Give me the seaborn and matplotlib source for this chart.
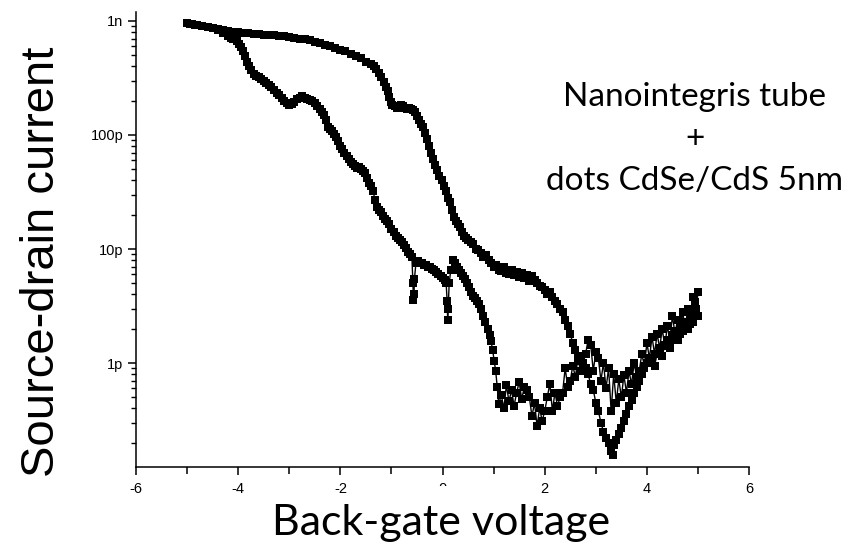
import numpy as np
import pandas as pd
import matplotlib
matplotlib.use('Agg')
import matplotlib.pyplot as plt
import matplotlib.ticker as mticker
import matplotlib.transforms as mtransforms
from matplotlib.patches import Rectangle
import seaborn as sns

# forward sweep (-5 V -> +5 V), current in pA
fwd_v = [-5.00, -4.95, -4.90, -4.85, -4.80, -4.70, -4.60, -4.50, -4.40, -4.30,
         -4.20, -4.10, -4.00, -3.90, -3.80, -3.70, -3.60, -3.50, -3.40, -3.30,
         -3.20, -3.10, -3.00, -2.90, -2.80, -2.70, -2.60, -2.50, -2.40, -2.30,
         -2.20, -2.10, -2.00, -1.90, -1.80, -1.70, -1.60, -1.50, -1.40, -1.35,
         -1.30, -1.25, -1.20, -1.15, -1.10, -1.07, -1.04, -1.01, -0.98, -0.94,
         -0.90, -0.86, -0.82, -0.78, -0.74, -0.70, -0.66, -0.62, -0.58, -0.54,
         -0.50, -0.46, -0.42, -0.38, -0.34, -0.30, -0.26, -0.22, -0.18, -0.14,
         -0.10, -0.06, -0.02, 0.02, 0.06, 0.10, 0.14, 0.18, 0.22, 0.26,
         0.30, 0.34, 0.38, 0.42, 0.46, 0.50, 0.55, 0.60, 0.65, 0.70,
         0.75, 0.80, 0.85, 0.90, 0.95, 1.00, 1.05, 1.10, 1.15, 1.20,
         1.25, 1.30, 1.35, 1.40, 1.45, 1.50, 1.55, 1.60, 1.65, 1.70,
         1.75, 1.80, 1.85, 1.90, 1.95, 2.00, 2.05, 2.10, 2.15, 2.20,
         2.25, 2.30, 2.35, 2.40, 2.45, 2.50, 2.55, 2.60, 2.65, 2.70,
         2.75, 2.80, 2.85, 2.90, 2.95, 3.00, 3.05, 3.10, 3.15, 3.20,
         3.25, 3.30, 3.33, 3.36, 3.40, 3.45, 3.50, 3.55, 3.60, 3.65,
         3.70, 3.75, 3.80, 3.85, 3.90, 3.95, 4.00, 4.05, 4.10, 4.15,
         4.20, 4.25, 4.30, 4.35, 4.40, 4.45, 4.50, 4.55, 4.60, 4.65,
         4.70, 4.75, 4.80, 4.85, 4.90, 4.95, 5.00]
fwd_i = [960, 950, 935, 930, 915, 900, 880, 870, 850, 830,
         820, 800, 795, 790, 780, 770, 765, 760, 755, 750,
         740, 735, 720, 710, 700, 690, 675, 660, 640, 620,
         600, 580, 560, 540, 510, 490, 470, 440, 420, 405,
         380, 350, 320, 290, 265, 245, 215, 195, 185, 178,
         172, 176, 182, 180, 172, 170, 174, 168, 165, 158,
         148, 135, 125, 117, 105, 92, 80, 70, 62, 55,
         49, 44, 40, 36, 32, 28, 26, 22, 19, 17.5,
         16.5, 15.5, 14, 13, 12.5, 12, 11.5, 11, 10, 9.8,
         9.2, 8.5, 8.8, 8.0, 7.6, 7.0, 7.3, 6.6, 6.4, 6.9,
         6.2, 6.0, 6.5, 5.9, 6.3, 5.7, 6.1, 5.6, 5.9, 5.2,
         5.8, 5.4, 5.0, 4.7, 4.6, 4.4, 4.0, 4.2, 3.8, 3.5,
         3.3, 3.0, 2.8, 2.4, 2.1, 1.8, 1.5, 1.3, 1.15, 1.05,
         0.95, 0.90, 0.80, 0.65, 0.58, 0.45, 0.38, 0.30, 0.25, 0.22,
         0.20, 0.17, 0.155, 0.19, 0.21, 0.24, 0.27, 0.31, 0.36, 0.42,
         0.47, 0.55, 0.62, 0.70, 0.80, 0.90, 1.00, 1.05, 1.10, 0.95,
         1.20, 1.30, 1.15, 1.45, 1.60, 1.35, 1.75, 1.90, 1.60, 2.10,
         1.90, 2.30, 2.00, 2.60, 2.30, 3.40, 2.60]

# backward sweep (+5 V -> -5 V), current in pA
bwd_v = [5.00, 4.97, 4.95, 4.90, 4.85, 4.80, 4.75, 4.70, 4.65, 4.60,
         4.55, 4.50, 4.45, 4.40, 4.35, 4.30, 4.25, 4.20, 4.15, 4.10,
         4.05, 4.00, 3.95, 3.90, 3.85, 3.80, 3.75, 3.70, 3.65, 3.60,
         3.55, 3.50, 3.45, 3.40, 3.35, 3.30, 3.25, 3.20, 3.15, 3.10,
         3.05, 3.00, 2.95, 2.90, 2.85, 2.80, 2.75, 2.70, 2.65, 2.60,
         2.55, 2.50, 2.45, 2.40, 2.35, 2.30, 2.25, 2.20, 2.15, 2.10,
         2.05, 2.00, 1.95, 1.90, 1.85, 1.80, 1.75, 1.70, 1.65, 1.60,
         1.55, 1.50, 1.45, 1.40, 1.35, 1.30, 1.25, 1.20, 1.15, 1.10,
         1.07, 1.04, 1.01, 0.98, 0.95, 0.92, 0.88, 0.84, 0.80, 0.76,
         0.72, 0.68, 0.64, 0.60, 0.56, 0.52, 0.48, 0.44, 0.40, 0.36,
         0.32, 0.28, 0.24, 0.20, 0.16, 0.13, 0.11, 0.10, 0.09, 0.07,
         0.04, 0.00, -0.04, -0.08, -0.12, -0.16, -0.20, -0.24, -0.28, -0.32,
         -0.36, -0.40, -0.44, -0.48, -0.52, -0.55, -0.56, -0.57, -0.58, -0.60,
         -0.64, -0.68, -0.72, -0.76, -0.80, -0.84, -0.88, -0.92, -0.96, -1.00,
         -1.04, -1.08, -1.12, -1.16, -1.20, -1.24, -1.28, -1.32, -1.36, -1.40,
         -1.44, -1.48, -1.52, -1.56, -1.60, -1.64, -1.68, -1.72, -1.76, -1.80,
         -1.84, -1.88, -1.92, -1.96, -2.00, -2.04, -2.08, -2.12, -2.16, -2.20,
         -2.24, -2.28, -2.32, -2.36, -2.40, -2.45, -2.50, -2.55, -2.60, -2.65,
         -2.70, -2.75, -2.80, -2.85, -2.90, -2.95, -3.00, -3.05, -3.10, -3.15,
         -3.20, -3.25, -3.30, -3.35, -3.40, -3.45, -3.50, -3.55, -3.60, -3.65,
         -3.70, -3.75, -3.78, -3.82, -3.86, -3.90, -3.94, -3.98, -4.02, -4.06,
         -4.10, -4.15, -4.20, -4.30, -4.40, -4.50, -4.60, -4.70, -4.80, -4.90,
         -5.00]
bwd_i = [4.2, 3.0, 2.6, 3.8, 2.2, 3.0, 2.0, 2.8, 1.8, 2.4,
         1.8, 2.6, 1.6, 2.1, 1.4, 2.0, 1.35, 1.8, 1.2, 1.7,
         1.1, 1.5, 0.95, 1.2, 0.85, 0.75, 1.0, 0.65, 0.85, 0.55,
         0.78, 0.50, 0.72, 0.45, 0.80, 0.38, 0.90, 0.60, 1.00, 0.70,
         1.10, 1.25, 0.85, 1.45, 1.60, 1.20, 1.00, 0.85, 1.10, 0.75,
         0.95, 0.70, 0.62, 0.90, 0.55, 0.50, 0.42, 0.55, 0.38, 0.66,
         0.50, 0.38, 0.31, 0.40, 0.28, 0.45, 0.34, 0.50, 0.58, 0.62,
         0.48, 0.68, 0.55, 0.42, 0.58, 0.46, 0.64, 0.40, 0.52, 0.44,
         0.62, 0.85, 1.05, 1.3, 1.55, 1.75, 2.0, 2.3, 2.6, 3.0,
         3.3, 3.5, 3.7, 3.9, 4.2, 4.6, 5.0, 5.5, 5.8, 6.2,
         6.6, 7.0, 7.5, 8.0, 6.5, 5.0, 3.0, 2.4, 3.5, 5.0,
         5.4, 5.6, 5.8, 6.0, 6.3, 6.5, 6.7, 6.9, 7.0, 7.2,
         7.3, 7.5, 7.6, 7.8, 7.6, 5.5, 4.0, 3.6, 5.0, 8.5,
         9.0, 9.5, 10.2, 10.8, 11.5, 12.0, 12.5, 13.0, 14.0, 15.0,
         16.5, 17.5, 18.5, 19.5, 21, 22, 23.5, 27, 32, 36,
         38, 42, 46, 48, 50, 52, 51, 53, 56, 58,
         62, 66, 70, 75, 80, 88, 96, 103, 108, 112,
         118, 135, 150, 160, 170, 180, 190, 198, 203, 208,
         213, 218, 212, 205, 195, 188, 182, 190, 200, 210,
         222, 235, 250, 262, 275, 285, 300, 310, 320, 330,
         345, 370, 400, 440, 490, 540, 590, 630, 665, 690,
         700, 715, 735, 790, 830, 860, 880, 900, 920, 940,
         960]

fwd = pd.DataFrame({'v': fwd_v, 'i': np.array(fwd_i) * 1e-12})
bwd = pd.DataFrame({'v': bwd_v, 'i': np.array(bwd_i) * 1e-12})

sns.set_style('ticks')
plt.rcParams['font.family'] = ['Liberation Sans', 'DejaVu Sans']
for key in ('text.color', 'axes.labelcolor', 'xtick.color', 'ytick.color',
            'axes.edgecolor'):
    plt.rcParams[key] = 'black'

fig = plt.figure(figsize=(8.61, 5.43), dpi=100)
ax = fig.add_axes([0.158, 0.140, 0.712, 0.838])

for d in (fwd, bwd):
    sns.lineplot(data=d, x='v', y='i', sort=False, estimator=None, ax=ax,
                 color='black', linewidth=1.0, marker='s', markersize=6,
                 markeredgewidth=0, markerfacecolor='black')

ax.set_yscale('log')
ax.set_xlim(-6, 6)
ax.set_ylim(1.225e-13, 1.2e-9)
ax.xaxis.set_major_locator(mticker.MultipleLocator(2))
ax.xaxis.set_minor_locator(mticker.MultipleLocator(1))
ax.xaxis.set_major_formatter(mticker.FuncFormatter(lambda v, p: '%d' % v))
ax.yaxis.set_major_locator(mticker.LogLocator(base=10))
ax.yaxis.set_minor_locator(mticker.LogLocator(base=10, subs=np.arange(2, 10)))
ylabels = {-9: '1n', -10: '100p', -11: '10p', -12: '1p'}
ax.yaxis.set_major_formatter(mticker.FuncFormatter(
    lambda v, p: ylabels.get(int(round(np.log10(v))), '')))
ax.yaxis.set_minor_formatter(mticker.NullFormatter())

sns.despine(ax=ax)
for s in ('left', 'bottom'):
    ax.spines[s].set_linewidth(1.1)
ax.tick_params(axis='both', which='major', length=6, width=1.1,
               labelsize=10.5, direction='out', color='black')
ax.tick_params(axis='x', which='major', pad=5)
ax.tick_params(axis='y', which='major', pad=3)
ax.tick_params(axis='x', which='minor', length=5, width=1.1, direction='out')
ax.tick_params(axis='y', which='minor', length=3.5, width=1.0, direction='out')

ax.set_ylabel('Source-drain current', fontsize=34, family=['Liberation Sans'])
ax.yaxis.set_label_coords(-0.153, 0.45)
ax.yaxis.label.set_va('center')

ax.set_xlabel('Back-gate voltage', fontsize=31, family=['Lato', 'DejaVu Sans'])
ax.xaxis.set_label_coords(0.4976, -0.150)
ax.xaxis.label.set_va('baseline')

# the zero tick label is partly hidden under the axis title in the original
tr = mtransforms.blended_transform_factory(ax.transData, fig.transFigure)
ax.add_artist(Rectangle((-0.3, 0.079), 0.6, 0.026, transform=tr,
                        facecolor='white', edgecolor='none', zorder=10,
                        clip_on=False))

fig.text(0.807, 0.744, 'Nanointegris tube\n+\ndots CdSe/CdS 5nm',
         ha='center', va='center', fontsize=24, linespacing=1.5,
         family=['Lato', 'DejaVu Sans'])

fig.savefig('out.png', dpi=100)
